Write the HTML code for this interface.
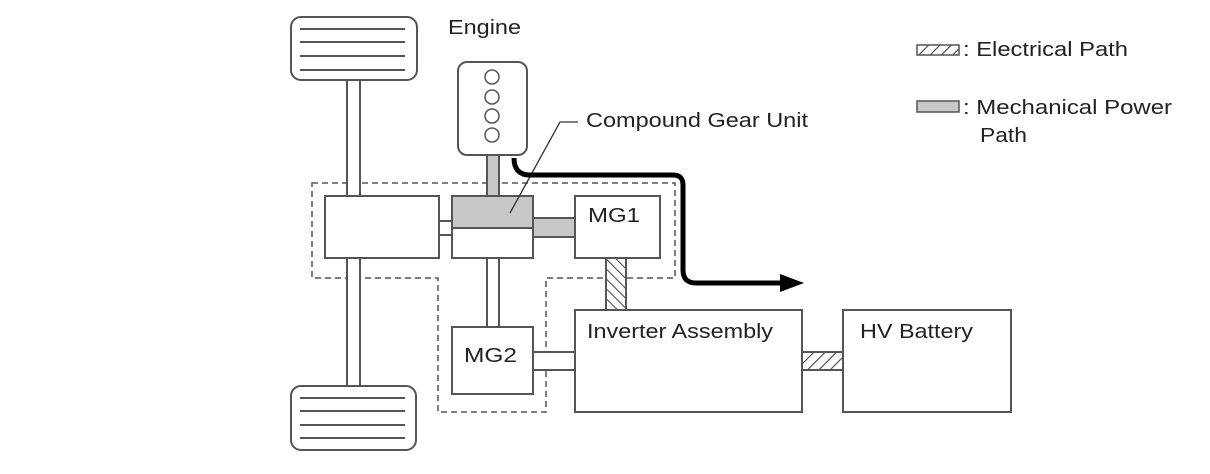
<!DOCTYPE html>
<html><head><meta charset="utf-8"><style>
html,body{margin:0;padding:0;background:#fff;}
svg{display:block;}
text{font-family:"Liberation Sans",Arial,sans-serif;font-size:20px;fill:#222;}
</style></head><body>
<svg width="1210" height="474" viewBox="0 0 1210 474" xmlns="http://www.w3.org/2000/svg">
<defs>
<pattern id="h1" patternUnits="userSpaceOnUse" width="8" height="8" patternTransform="rotate(45)">
<rect width="8" height="8" fill="#fff"/><line x1="0" y1="0" x2="0" y2="8" stroke="#444" stroke-width="2.2"/></pattern>
<pattern id="h2" patternUnits="userSpaceOnUse" width="7" height="7" patternTransform="rotate(-45)">
<rect width="7" height="7" fill="#fff"/><line x1="0" y1="0" x2="0" y2="7" stroke="#444" stroke-width="2"/></pattern>
</defs>
<g stroke="#555" stroke-width="2" fill="#fff">
<!-- tires -->
<rect x="291" y="17" width="126" height="63" rx="10"/>
<rect x="291" y="386" width="125" height="64" rx="10"/>
</g>
<g stroke="#555" stroke-width="2">
<line x1="300" y1="29" x2="405" y2="29"/><line x1="300" y1="42" x2="405" y2="42"/><line x1="300" y1="56" x2="405" y2="56"/><line x1="300" y1="70" x2="405" y2="70"/>
<line x1="300" y1="398" x2="405" y2="398"/><line x1="300" y1="411" x2="405" y2="411"/><line x1="300" y1="425" x2="405" y2="425"/><line x1="300" y1="438" x2="405" y2="438"/>
</g>
<!-- dashed enclosure -->
<path d="M312 183 H675 V278 H546 V412 H438 V278 H312 Z" fill="none" stroke="#555" stroke-width="1.5" stroke-dasharray="6,4"/>
<g stroke="#555" stroke-width="2">
<!-- shafts -->
<rect x="347" y="80" width="13" height="116" fill="#fff"/>
<rect x="347" y="258" width="13" height="128" fill="#fff"/>
<rect x="487" y="155" width="12" height="41" fill="#c8c8c8"/>
<rect x="487" y="258" width="12" height="70" fill="#fff"/>
<rect x="439" y="221" width="13" height="14" fill="#fff"/>
<rect x="533" y="218" width="42" height="19" fill="#c8c8c8"/>
<rect x="533" y="352" width="42" height="18" fill="#fff"/>
<rect x="606" y="258" width="20" height="53" fill="url(#h2)"/>
<rect x="802" y="352" width="41" height="18" fill="url(#h1)"/>
<!-- boxes -->
<rect x="458" y="62" width="69" height="93" rx="9" fill="#fff"/>
<rect x="325" y="196" width="114" height="62" fill="#fff"/>
<rect x="452" y="196" width="81" height="32" fill="#c8c8c8"/>
<rect x="452" y="228" width="81" height="30" fill="#fff"/>
<rect x="575" y="196" width="85" height="62" fill="#fff"/>
<rect x="452" y="327" width="81" height="67" fill="#fff"/>
<rect x="575" y="310" width="227" height="102" fill="#fff"/>
<rect x="843" y="310" width="168" height="102" fill="#fff"/>
<!-- legend -->
<rect x="917" y="45" width="42" height="10" fill="url(#h1)" stroke-width="1.5"/>
<rect x="917" y="101" width="42" height="11" fill="#c8c8c8" stroke-width="1.5"/>
</g>
<g stroke="#555" stroke-width="1.5" fill="#fff">
<circle cx="492" cy="77" r="7"/><circle cx="492" cy="97" r="7"/><circle cx="492" cy="116" r="7"/><circle cx="492" cy="135" r="7"/>
</g>
<!-- leader line -->
<polyline points="510,213 560,122 578,122" fill="none" stroke="#333" stroke-width="1.3"/>
<!-- power flow arrow -->
<path d="M514 158 Q514 175 530 175 H673 Q683 175 683 185 V270 Q683 283 696 283 H784" fill="none" stroke="#000" stroke-width="5"/>
<polygon points="780,274 804,283 780,292" fill="#000"/>
<!-- text -->
<text x="448" y="34" textLength="73" lengthAdjust="spacingAndGlyphs">Engine</text>
<text x="586" y="127" textLength="222" lengthAdjust="spacingAndGlyphs">Compound Gear Unit</text>
<text x="588" y="222" textLength="52" lengthAdjust="spacingAndGlyphs">MG1</text>
<text x="464" y="362" textLength="53" lengthAdjust="spacingAndGlyphs">MG2</text>
<text x="587" y="338" textLength="186" lengthAdjust="spacingAndGlyphs">Inverter Assembly</text>
<text x="860" y="338" textLength="113" lengthAdjust="spacingAndGlyphs">HV Battery</text>
<text x="963" y="56" textLength="165" lengthAdjust="spacingAndGlyphs">: Electrical Path</text>
<text x="963" y="114" textLength="209" lengthAdjust="spacingAndGlyphs">: Mechanical Power</text>
<text x="980" y="142" textLength="47" lengthAdjust="spacingAndGlyphs">Path</text>
</svg>
</body></html>
